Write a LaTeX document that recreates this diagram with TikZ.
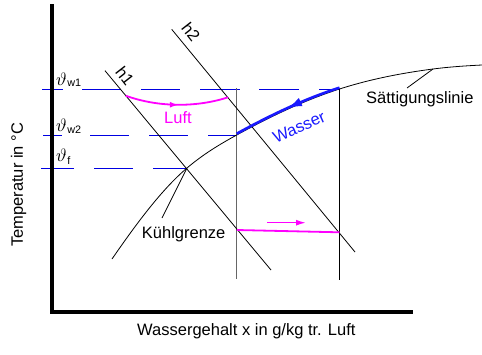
\documentclass[tikz,border=0pt]{standalone}
\usepackage{graphicx}
\usepackage{fontspec}
\setmainfont{Liberation Sans}
\usetikzlibrary{arrows.meta,decorations.markings}
\definecolor{dblue}{RGB}{0,0,225}
\definecolor{wblue}{RGB}{25,25,255}
\definecolor{mag}{RGB}{255,0,255}
\begin{document}
\begin{tikzpicture}[x=1pt,y=-1pt,
  lbl/.style={font=\fontsize{16.5}{18}\selectfont, inner sep=0pt},
  thl/.style={anchor=base west, inner sep=0pt},
  thinline/.style={line width=0.8pt},
  guide/.style={dblue, line width=0.9pt},
  midarrow/.style={postaction={decorate}, decoration={markings, mark=at position #1}},
]
\useasboundingbox (0,0) rectangle (482,354);
% key points
\coordinate (S0) at (112,259);
\coordinate (K)  at (187,168);
\coordinate (W2) at (236.7,135);
\coordinate (W1) at (339.5,89);
\coordinate (S4) at (433,69);
\coordinate (S5) at (482,65);
\coordinate (g1) at (42,89);
\coordinate (g2) at (43,135);
\coordinate (g3) at (41,168);
\coordinate (V1t) at (236.7,88);
\coordinate (V1b) at (236.7,279);
\coordinate (V2t) at (339.5,88);
\coordinate (V2b) at (339.5,280);
\coordinate (h1a) at (105,70.7);
\coordinate (h1b) at (271,270);
\coordinate (h2a) at (171.7,29.3);
\coordinate (h2b) at (355,252);
\coordinate (L1) at (125.7,95.7);
\coordinate (L2) at (228,97.3);
\coordinate (P1) at (237,230);
\coordinate (P2) at (339.5,232.3);
\coordinate (A1) at (267,222.7);
\coordinate (A2) at (306,222.7);
\coordinate (satl) at (407,88);
\coordinate (kgl) at (162,218);
\coordinate (Ytop) at (52,4);
\coordinate (O) at (52,311.5);
\coordinate (Xend) at (413,311.5);
\coordinate (B1) at (339.5,87.7);
\coordinate (B2) at (236.7,133.7);

% dashed guide lines
\draw[guide, dash pattern=on 21pt off 19pt on 39pt off 20pt on 39pt off 20pt on 40pt off 19pt on 40pt off 20pt on 40pt off 20pt] (g1) -- (W1);
\draw[guide, dash pattern=on 19pt off 28pt on 39pt off 20pt on 39pt off 20pt on 40pt off 20pt] (g2) -- (W2);
\draw[guide, dash pattern=on 33pt off 20pt on 39pt off 20pt on 40pt off 20pt] (g3) -- (K);

% vertical lines
\draw[black!60, line width=1.1pt] (V1t) -- (V1b);
\draw[thinline] (V2t) -- (V2b);

% enthalpy lines
\draw[thinline] (h1a) -- (h1b);
\draw[thinline] (h2a) -- (h2b);

% saturation curve
\draw[thinline] (S0) .. controls (137,222.75) and (162,189.25) .. (K)
  .. controls (203.57,153.92) and (220.13,144.11) .. (W2)
  .. controls (270.97,116.15) and (305.23,99.97) .. (W1)
  .. controls (370.67,79.03) and (401.83,73.05) .. (S4)
  .. controls (449.33,66.88) and (465.67,65.82) .. (S5);

% water arrow
\draw[wblue, line width=2.6pt, midarrow={0.5 with {\arrow{Latex[length=15pt,width=9pt]}}}]
  (B1) .. controls (305.23,98.67) and (270.97,114.85) .. (B2);

% air curve
\draw[mag, line width=1.8pt, midarrow={0.52 with {\arrow{Latex[length=9pt,width=6pt]}}}]
  (L1) .. controls (157,107) and (195,108) .. (L2);
\draw[mag, line width=1.8pt] (P1) -- (P2);
\draw[mag, line width=1.5pt, -{Latex[length=10pt,width=6pt]}] (A1) -- (A2);

% leaders
\draw[thinline] (S4) -- (satl);
\draw[thinline] (K) -- (kgl);

% axes
\draw[line width=4pt] (Ytop) -- (O) -- (Xend);

% labels
\node[lbl, anchor=base west] (sat) at (366,103.3) {Sättigungslinie};
\node[lbl, anchor=base west] (kg) at (141.7,238.5) {Kühlgrenze};
\node[lbl, anchor=base west] (xl) at (137,335) {Wassergehalt x in g/kg tr. Luft};
\node[lbl, anchor=base west, rotate=90] (yl) at (23,247) {Temperatur in °C};
\node[lbl, text=mag] (luft) at (178,118) {Luft};
\node[lbl, text=wblue, rotate=24] (wasser) at (299,127) {Wasser};
\node[lbl, rotate=-52] (h1l) at (125,76) {h1};
\node[lbl, rotate=-52] (h2l) at (191,32) {h2};

\node[thl] (tw1) at (56,85) {\scalebox{1.8}{$\vartheta$}\kern0.5pt\fontsize{10.8}{12}\selectfont\raisebox{-1.5pt}{w1}};
\node[thl] (tw2) at (56,131.7) {\scalebox{1.8}{$\vartheta$}\kern0.5pt\fontsize{10.8}{12}\selectfont\raisebox{-1.6pt}{w2}};
\node[thl] (tf) at (56,161) {\scalebox{1.8}{$\vartheta$}\kern0.5pt\fontsize{10.8}{12}\selectfont\raisebox{-3.5pt}{f}};
\end{tikzpicture}
\end{document}
